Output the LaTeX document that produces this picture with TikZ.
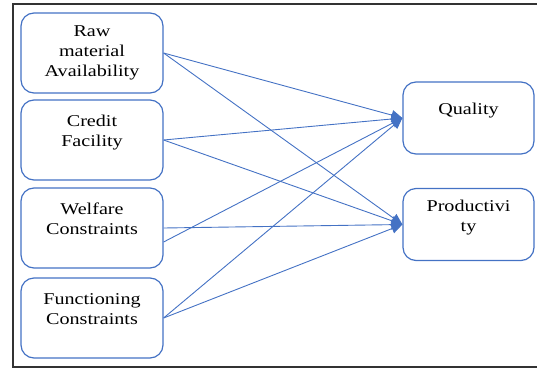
\documentclass[tikz,border=0pt]{standalone}
\usepackage{fontspec}
\setmainfont{Liberation Serif}[FakeStretch=1.22]
\usetikzlibrary{arrows.meta}
\definecolor{boxblue}{HTML}{4472C4}
\begin{document}
\begin{tikzpicture}[x=1pt,y=-1pt,
  box/.style={draw=boxblue, line width=1.2pt, rounded corners=13pt, align=center,
    minimum width=142pt, minimum height=80pt, font=\rmfamily\fontsize{16.5}{20}\selectfont},
  outbox/.style={box, minimum width=131pt, minimum height=72pt},
  raised/.style={text depth=18pt},
  link/.style={draw=boxblue, line width=0.9pt, -{Triangle[length=11pt,width=10pt]}}]
\useasboundingbox (0,0) rectangle (537,369);
\draw[line width=1.5pt, black!80] (537,4) -- (13,4) -- (13,367) -- (537,367);

\node[box] (raw) at (92,53) {Raw\\material\\Availability};
\node[box, raised] (credit) at (92,140) {Credit\\Facility};
\node[box, raised] (welfare) at (92,228) {Welfare\\Constraints};
\node[box, raised] (func) at (92,318) {Functioning\\Constraints};
\node[outbox, raised] (qual) at (468.5,118) {Quality};
\node[outbox, raised] (prod) at (468.5,224.5) {Productivi\\ty};

\path[link] (raw.east) -- (qual.west);
\path[link] (raw.east) -- (prod.west);
\path[link] (credit.east) -- (qual.west);
\path[link] (credit.east) -- (prod.west);
\path[link] ([yshift=-14pt]welfare.east) -- (qual.west);
\path[link] (welfare.east) -- (prod.west);
\path[link] (func.east) -- (qual.west);
\path[link] (func.east) -- (prod.west);
\end{tikzpicture}
\end{document}
